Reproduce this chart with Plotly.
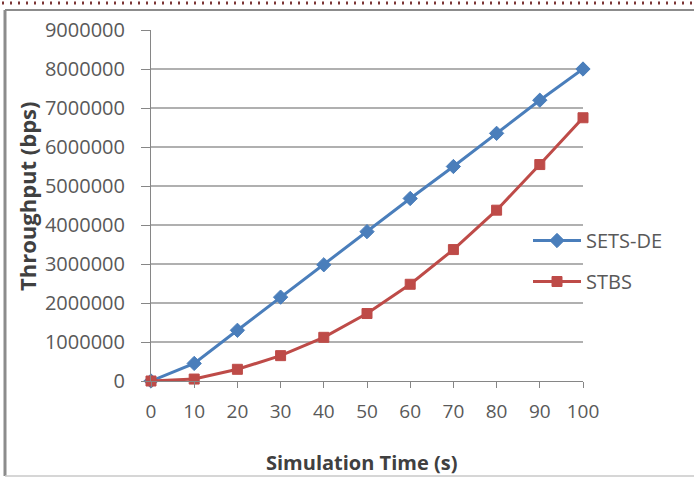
import plotly.graph_objects as go

# Simulation time (s) on the x axis
sim_time = [0, 10, 20, 30, 40, 50, 60, 70, 80, 90, 100]

# Throughput (bps) for each scheme
sets_de = [0, 450000, 1300000, 2150000, 2980000, 3830000, 4680000, 5500000, 6350000, 7200000, 8000000]
stbs = [0, 50000, 300000, 650000, 1120000, 1730000, 2480000, 3370000, 4380000, 5550000, 6750000]

y_ticks = [0, 1000000, 2000000, 3000000, 4000000, 5000000, 6000000, 7000000, 8000000, 9000000]
y_tick_text = [str(v) for v in y_ticks]
x_tick_text = [str(v) for v in sim_time]

W, H = 694, 477
L, R, T, B = 151, 583, 30, 381  # plot area edges in pixels


def px(xp):
    return (xp - L) / (R - L)


def py(yp):
    return (B - yp) / (B - T)


FONT = "Open Sans"
TICK_COLOR = "#595959"
TITLE_COLOR = "#404040"
BLUE = "#4A7EBB"
RED = "#BE4B48"
FRAME = "#8C8C8C"

fig = go.Figure()
fig.add_trace(go.Scatter(
    x=sim_time, y=sets_de, name="SETS-DE", mode="lines+markers",
    line=dict(color=BLUE, width=3),
    marker=dict(symbol="diamond", size=11, color=BLUE, line=dict(color=BLUE, width=1)),
    legendgroup="a", cliponaxis=False,
))
fig.add_trace(go.Scatter(
    x=sim_time, y=stbs, name="STBS", mode="lines+markers",
    line=dict(color=RED, width=3),
    marker=dict(symbol="square", size=10, color=RED, line=dict(color=RED, width=1)),
    legendgroup="b", cliponaxis=False,
))

fig.update_layout(
    width=W, height=H,
    margin=dict(l=L, r=W - R, t=T, b=H - B, pad=0),
    paper_bgcolor="white", plot_bgcolor="white",
    font=dict(family=FONT, size=20, color=TICK_COLOR),
    showlegend=True,
    legend=dict(
        x=px(528), y=py(221), xanchor="left", yanchor="top",
        bgcolor="rgba(0,0,0,0)", itemwidth=48, tracegroupgap=12,
        font=dict(family=FONT, size=20, color=TICK_COLOR),
    ),
    xaxis=dict(
        range=[0, 100], tickvals=sim_time, ticktext=x_tick_text,
        showgrid=False, zeroline=False, showline=True, linecolor="#868686", linewidth=1,
        ticks="outside", ticklen=6, tickcolor="#868686",
        ticklabelstandoff=7, tickfont=dict(size=19, color=TICK_COLOR),
    ),
    yaxis=dict(
        range=[0, 9000000], tickvals=y_ticks, ticktext=y_tick_text,
        showgrid=True, gridcolor="#B0B0B0", gridwidth=1.5, zeroline=False,
        showline=True, linecolor="#868686", linewidth=1,
        ticks="outside", ticklen=9, tickcolor="#868686",
        ticklabelstandoff=12, tickfont=dict(size=20, color=TICK_COLOR),
    ),
    annotations=[
        dict(text="<b>Throughput (bps)</b>", textangle=-90, x=px(27), y=py(196),
             xref="paper", yref="paper", xanchor="center", yanchor="middle",
             showarrow=False, font=dict(family=FONT, size=22, color=TITLE_COLOR)),
        dict(text="<b>Simulation Time (s)</b>", x=px(361), y=py(463),
             xref="paper", yref="paper", xanchor="center", yanchor="middle",
             showarrow=False, font=dict(family=FONT, size=20, color=TITLE_COLOR)),
    ],
    shapes=[
        # chart frame: left, top and bottom edges
        dict(type="line", xref="paper", yref="paper",
             x0=px(5), x1=px(5), y0=py(476), y1=py(10),
             line=dict(color=FRAME, width=3)),
        dict(type="line", xref="paper", yref="paper",
             x0=px(5), x1=px(694), y0=py(10), y1=py(10),
             line=dict(color=FRAME, width=2)),
        dict(type="line", xref="paper", yref="paper",
             x0=px(5), x1=px(694), y0=py(476), y1=py(476),
             line=dict(color="#C8C8C8", width=1.5)),
        # dotted rule along the top edge
        dict(type="line", xref="paper", yref="paper",
             x0=px(2), x1=px(694), y0=py(3), y1=py(3),
             line=dict(color="#7B3535", width=3, dash="2px,6px")),
    ],
)

fig.write_html("out.html")
